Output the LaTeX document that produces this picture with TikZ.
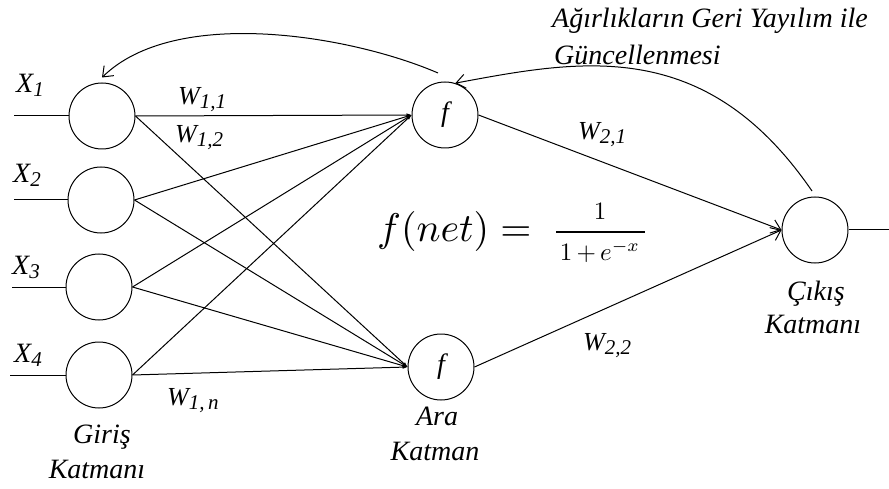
\documentclass[tikz,border=0pt]{standalone}
\usepackage{graphicx}
\usepackage{fontspec}
\setmainfont{Liberation Serif}
\usetikzlibrary{arrows.meta}
\newcommand\lidx[1]{\raisebox{-4pt}{\fontsize{21}{21}\selectfont #1}}
\begin{document}
\begin{tikzpicture}[x=1pt,y=-1pt,
  neuron/.style={draw, circle, minimum size=66pt, inner sep=0pt, line width=1pt},
  wire/.style={line width=1pt},
  inarr/.style={line width=1pt, -{Triangle[length=5pt,width=3pt]}},
  arr/.style={line width=1pt, -{Straight Barb[length=9pt,width=14pt,line width=1pt]}},
  lbl/.style={font=\fontsize{28}{30}\selectfont\itshape, inner sep=0pt, anchor=base},
  wlbl/.style={font=\fontsize{26}{28}\selectfont\itshape, inner sep=0pt, anchor=base west},
  frac/.style={inner sep=0pt, anchor=base}]
\useasboundingbox (0,0) rectangle (889,489);
\fill[white] (0,0) rectangle (889,489);

% neurons
\node[neuron] (i1) at (102,116) {};
\node[neuron] (i2) at (101,200) {};
\node[neuron] (i3) at (99,287) {};
\node[neuron] (i4) at (99,375) {};
\node[neuron, font=\fontsize{28}{28}\selectfont\itshape] (h1) at (445,115) {f};
\node[neuron, font=\fontsize{28}{28}\selectfont\itshape] (h2) at (441,367) {f};
\node[neuron] (o) at (815,230) {};

% input / output lines
\coordinate (in1) at (14,116);
\coordinate (in2) at (14,200);
\coordinate (in3) at (12,287);
\coordinate (in4) at (10,375);
\coordinate (out) at (889,230);
\foreach \k in {1,...,4} {\draw[wire] (in\k) -- (i\k);}
\draw[wire] (o) -- (out);

% input -> hidden
\foreach \k in {1,...,4} {
  \draw[inarr] (i\k.east) -- (h1.west);
  \draw[inarr] (i\k.east) -- (h2.west);
}

% hidden -> output
\draw[arr] (h1.east) -- (o.west);
\draw[arr] (h2.east) -- (o.west);

% back-propagation arrows
\coordinate (fbA) at (812,191);
\coordinate (fbB) at (438,73);
\draw[arr] (fbA) .. controls (705,35) and (580,60) .. (h1.72);
\draw[arr] (fbB) .. controls (350,35) and (175,6) .. ([yshift=5pt]i1.north);

% labels
\node[lbl, anchor=base west] (t1) at (552,28) {Ağırlıkların Geri Yayılım ile};
\node[lbl, anchor=base west] (t2) at (554,65) {Güncellenmesi};

\node[lbl, anchor=base west] (x1) at (16,93) {X\lidx{1}};
\node[lbl, anchor=base west] (x2) at (13,183) {X\lidx{2}};
\node[lbl, anchor=base west] (x3) at (12,275) {X\lidx{3}};
\node[lbl, anchor=base west] (x4) at (14,362) {X\lidx{4}};

\node[wlbl] (w11) at (178,105) {W\lidx{1,1}};
\node[wlbl] (w12) at (175,143) {W\lidx{1,2}};
\node[wlbl] (w1n) at (167,405) {W\lidx{1,\,n}};
\node[wlbl] (w21) at (578,140) {W\lidx{2,1}};
\node[wlbl] (w22) at (583,350) {W\lidx{2,2}};

\node[lbl] (g1) at (102,443) {Giriş};
\node[lbl] (g2) at (97,478) {Katmanı};
\node[lbl] (a1) at (437,425) {Ara};
\node[lbl] (a2) at (435,460) {Katman};
\node[lbl] (c1) at (816,300) {Çıkış};
\node[lbl] (c2) at (813,333) {Katmanı};

% formula
\node[inner sep=0pt, anchor=base west] (fn) at (377,242)
  {\scalebox{4}{$f(net) =$}};
\node[frac] (num) at (600,220) {\scalebox{2.5}{$1$}};
\node[frac] (den) at (600,261) {\scalebox{2.5}{$1\mskip3mu{+}\mskip3mu e^{-x}$}};
\coordinate (barL) at (556,232);
\coordinate (barR) at (645,232);
\draw[line width=1.3pt] (barL) -- (barR);
\end{tikzpicture}
\end{document}
